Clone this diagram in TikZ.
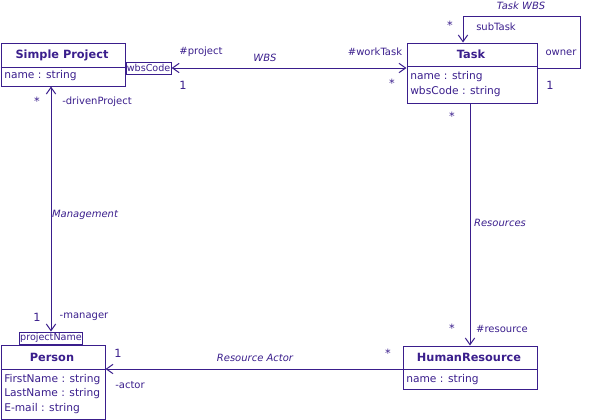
\documentclass[tikz,border=0pt]{standalone}
\usepackage{fontspec}
\setmainfont{DejaVu Sans}
\usepackage{xcolor}
\usepackage{tikz}
\usetikzlibrary{arrows.meta, positioning, calc}
\definecolor{umlink}{HTML}{3A1E8C}

\tikzset{
  >={Straight Barb[length=5pt, width=7pt]},
  classbox/.style={draw=umlink, line width=0.75pt, anchor=north west, inner sep=0pt},
  qualbox/.style={draw=umlink, line width=0.75pt, inner sep=0.6pt, minimum height=9pt,
                  font=\fontsize{7.2}{8}\selectfont, text=umlink},
  ctitle/.style={font=\fontsize{8.5}{10}\selectfont\bfseries, text=umlink},
  cattr/.style={font=\fontsize{8}{10}\selectfont, text=umlink, anchor=west, inner sep=0pt},
  rolelbl/.style={font=\fontsize{7.5}{9}\selectfont, text=umlink, inner sep=0pt},
  multlbl/.style={font=\fontsize{8.5}{9}\selectfont, text=umlink, inner sep=0pt},
  assoclbl/.style={font=\fontsize{7.5}{9}\selectfont\itshape, text=umlink, inner sep=0pt},
  assoc/.style={draw=umlink, line width=0.75pt},
}

\begin{document}
\begin{tikzpicture}[x=0.75pt, y=-0.75pt]
  \useasboundingbox (0,0) rectangle (592,419);

  %% class boxes (1 unit = 1 px of the original diagram)
  \node[classbox, minimum width=93pt, minimum height=32.25pt] (sp) at (0.5,42.5) {};
  \node[classbox, minimum width=97.5pt, minimum height=45pt] (tk) at (406.5,42.5) {};
  \node[classbox, minimum width=78pt, minimum height=55.5pt] (pe) at (0.5,344.5) {};
  \node[classbox, minimum width=100.5pt, minimum height=32.25pt] (hr) at (402.5,345.5) {};

  %% compartment lines
  \draw[assoc] (sp.west |- 0,67) -- (sp.east |- 0,67);
  \draw[assoc] (tk.west |- 0,66) -- (tk.east |- 0,66);
  \draw[assoc] (pe.west |- 0,369) -- (pe.east |- 0,369);
  \draw[assoc] (hr.west |- 0,369) -- (hr.east |- 0,369);

  %% class names
  \node[ctitle] (spname) at (62,55) {Simple Project};
  \node[ctitle] (tkname) at (471,54) {Task};
  \node[ctitle] (pename) at (52,357) {Person};
  \node[ctitle] (hrname) at (469,357) {HumanResource};

  %% attributes
  \node[cattr] (spa) at (4,76) {name : string};
  \node[cattr] (tka) at (410,77) {name : string};
  \node[cattr] (tkb) at (410,92) {wbsCode : string};
  \foreach \attr/\ypos [count=\i] in {FirstName : string/380, LastName : string/394, E-mail : string/409} {
    \node[cattr] (pe\i) at (4,\ypos) {\attr};
  }
  \node[cattr] (hra) at (406,380) {name : string};

  %% qualifiers
  \node[qualbox, anchor=west] (wbs) at (sp.east |- 0,68) {wbsCode};
  \node[qualbox, anchor=south] (pn) at (51,344.5) {projectName};

  %% associations
  \draw[assoc, <->] (wbs.east) -- (wbs.east -| tk.west);
  \draw[assoc, <->] (pn.north |- sp.south) -- (pn.north);
  \draw[assoc, ->] (hr.north |- tk.south) -- (hr.north);
  \coordinate (ra) at (402.5,369);
  \draw[assoc, ->] (ra) -- (ra -| pe.east);

  %% Task WBS self association
  \coordinate (owner) at (536.5,68);
  \coordinate (loop) at (580,16);
  \coordinate (subt) at (463,42.5);
  \draw[assoc, ->] (owner) -| (loop) -| (subt);

  %% association names
  \node[assoclbl] (wbsl) at (265,58) {WBS};
  \node[assoclbl] (twbs) at (521,6) {Task WBS};
  \node[assoclbl] (mgmt) at (85,215) {Management};
  \node[assoclbl] (resl) at (500,223) {Resources};
  \node[assoclbl] (ract) at (255,358) {Resource Actor};

  %% roles and multiplicities
  \node[rolelbl] (r1) at (201,52) {\#project};
  \node[multlbl] (m1) at (183,85) {1};
  \node[rolelbl] (r2) at (375,52) {\#workTask};
  \node[multlbl] (m2) at (392,83) {*};
  \node[multlbl] (m3) at (450,25) {*};
  \node[rolelbl] (r3) at (496,27) {subTask};
  \node[rolelbl] (r4) at (561,53) {owner};
  \node[multlbl] (m4) at (550,85) {1};
  \node[multlbl] (m5) at (37,101) {*};
  \node[rolelbl] (r5) at (97,102) {-drivenProject};
  \node[multlbl] (m6) at (37,317) {1};
  \node[rolelbl] (r6) at (84,317) {-manager};
  \node[multlbl] (m7) at (452,116) {*};
  \node[multlbl] (m8) at (452,328) {*};
  \node[rolelbl] (r8) at (502,329) {\#resource};
  \node[multlbl] (m9) at (118,353) {1};
  \node[multlbl] (m10) at (388,353) {*};
  \node[rolelbl] (r9) at (130,385) {-actor};

\end{tikzpicture}
\end{document}
